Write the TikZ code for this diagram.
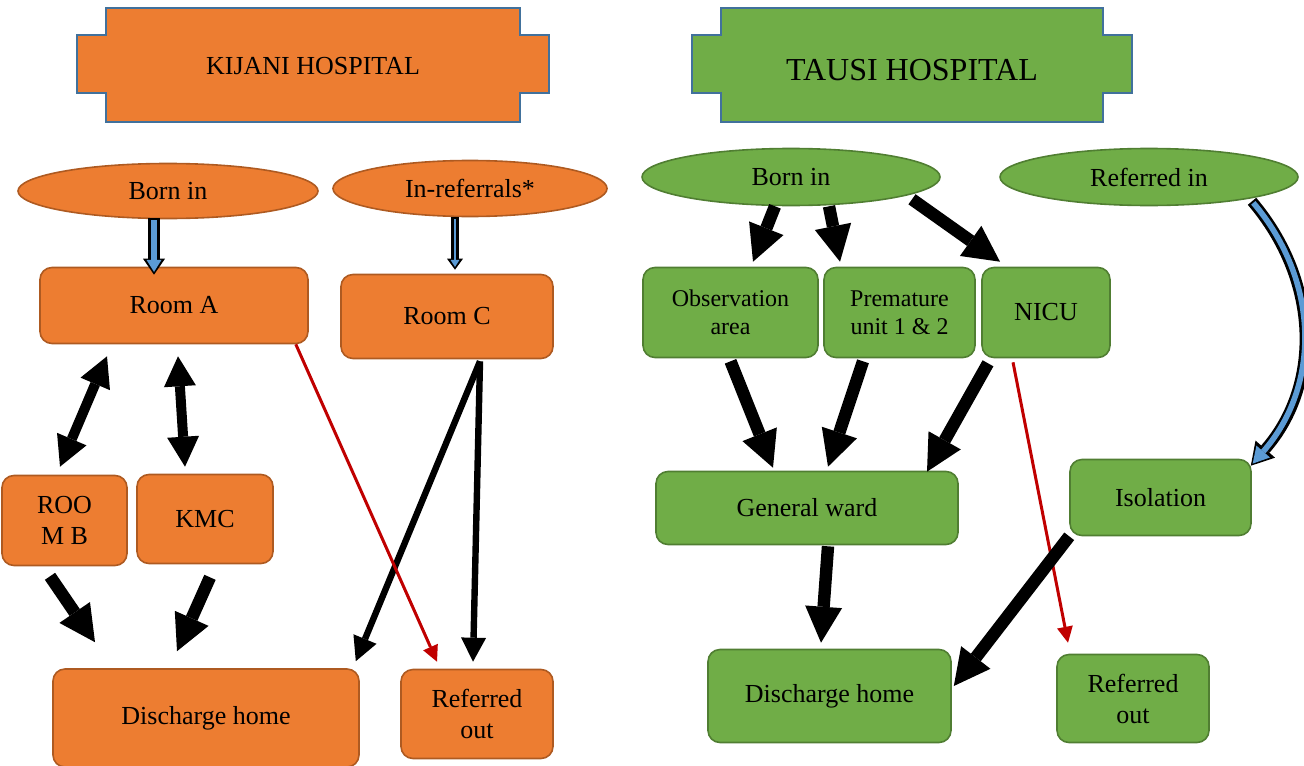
\documentclass[tikz,border=0pt]{standalone}
\usepackage{fontspec}
\setmainfont{Liberation Serif}
\usetikzlibrary{shapes.geometric,arrows.meta,calc}
\definecolor{kijaniorange}{HTML}{ED7D31}
\definecolor{kijaniedge}{HTML}{AE5A21}
\definecolor{tausigreen}{HTML}{70AD47}
\definecolor{tausiedge}{HTML}{507E32}
\definecolor{plaqueedge}{HTML}{41719C}
\definecolor{arrowblue}{HTML}{5B9BD5}
\definecolor{referred}{HTML}{C00000}
\newcommand{\boxFont}[0]{\fontsize{13}{15.5}\selectfont}
\newcommand{\smallFont}[0]{\fontsize{12}{14}\selectfont}
\newcommand{\titleFont}[0]{\fontsize{16}{19}\selectfont}

\begin{document}
\begin{tikzpicture}[x=0.5pt, y=-0.5pt]
  \tikzset{kbox/.style={draw=kijaniedge, fill=kijaniorange, line width=0.8pt, rounded corners=6pt,
                        align=center, font=\boxFont, inner sep=1pt},
           koval/.style={ellipse, draw=kijaniedge, fill=kijaniorange, line width=0.8pt, font=\boxFont, inner sep=1pt},
           tbox/.style={draw=tausiedge, fill=tausigreen, line width=0.8pt, rounded corners=6pt,
                        align=center, font=\boxFont, inner sep=1pt},
           toval/.style={ellipse, draw=tausiedge, fill=tausigreen, line width=0.8pt, font=\boxFont, inner sep=1pt},
           plaque/.style={draw=plaqueedge, line width=1.1pt},
           flow/.style={line width=6.2pt, >={Triangle[length=18pt,width=18.5pt,line width=0pt]}, ->},
           twoway/.style={line width=5pt, >={Triangle[length=15pt,width=16pt,line width=0pt]}, <->},
           thin flow/.style={line width=3.2pt, >={Triangle[length=12pt,width=12.5pt,line width=0pt]}, ->},
           referral/.style={draw=referred, line width=1.5pt, >={Triangle[length=8pt,width=8pt,line width=0pt]}, ->},
           outlined/.style n args={6}{draw=arrowblue, line width=#2, shorten >=1.4pt, shorten <=1pt,
                        -{Triangle[width=#5,length=#6,line width=0pt]},
                        preaction={draw=black, line width=#1, shorten >=0pt, shorten <=0pt,
                                   -{Triangle[width=#3,length=#4,line width=0pt]}}}}
  \useasboundingbox (0,0) rectangle (1304,765);

  % Kijani
  \draw[plaque, fill=kijaniorange] (106,8) -- (520,8) -- (520,35) -- (549,35) -- (549,93) -- (520,93)
        -- (520,122) -- (106,122) -- (106,93) -- (77,93) -- (77,35) -- (106,35) -- cycle;
  \node[font=\boxFont] (kijani) at (313,66) {KIJANI HOSPITAL};
  \node[koval, minimum width=150pt, minimum height=27.5pt] (bornK) at (168,191) {Born in};
  \node[koval, minimum width=137pt, minimum height=28pt] (inref) at (470,188.5) {In-referrals*};
  \node[kbox, minimum width=134pt, minimum height=38pt] (roomA) at (174,305.5) {Room A};
  \node[kbox, minimum width=106pt, minimum height=42pt] (roomC) at (447,316.5) {Room C};
  \node[kbox, minimum width=62.5pt, minimum height=45pt] (roomB) at (64.5,520.5) {ROO\\M B};
  \node[kbox, minimum width=68pt, minimum height=44.5pt] (kmc) at (205,519) {KMC};
  \node[kbox, minimum width=153pt, minimum height=49pt] (homeK) at (206,718) {Discharge home};
  \node[kbox, minimum width=76pt, minimum height=44.5pt] (outK) at (477,714) {Referred\\out};

  \draw[outlined={6pt}{3.2pt}{11pt}{8pt}{7.5pt}{6pt}] ($(bornK.south)+(-14,-1)$) -- ($(roomA.north)+(-20,8)$);
  \draw[outlined={3.8pt}{1.2pt}{8pt}{5.5pt}{4.5pt}{3.5pt}] ($(inref.south)+(-15,0)$) -- ($(roomC.north)+(8,-4)$);
  \draw[twoway] ($(roomA.south)+(-67,12)$) -- ($(roomB.north)+(-4.5,-8)$);
  \draw[twoway] ($(roomA.south)+(4,12)$) -- ($(kmc.north)+(-20,-7)$);
  \draw[flow] ($(roomB.south)+(-14.5,10)$) -- ($(homeK.north)+(-111,-26)$);
  \draw[flow] ($(kmc.south)+(5,13)$) -- ($(homeK.north)+(-29,-17)$);
  \draw[thin flow] ($(roomC.south)+(33,2)$) -- ($(homeK.north east)+(-4,-7)$);
  \draw[thin flow] ($(roomC.south)+(33,2)$) -- ($(outK.north)+(-4,-7)$);
  \draw[referral] ($(roomA.south east)+(-13,0)$) -- ($(outK.north)+(-40,-7)$);

  % Tausi
  \draw[plaque, fill=tausigreen] (721,8) -- (1103,8) -- (1103,35) -- (1132,35) -- (1132,93) -- (1103,93)
        -- (1103,122) -- (721,122) -- (721,93) -- (692,93) -- (692,35) -- (721,35) -- cycle;
  \node[font=\titleFont] (tausi) at (912,70) {TAUSI HOSPITAL};
  \node[toval, minimum width=149pt, minimum height=28.5pt] (bornT) at (791,177) {Born in};
  \node[toval, minimum width=149pt, minimum height=28.5pt] (refin) at (1149,177) {Referred in};
  \node[tbox, minimum width=87.5pt, minimum height=45pt, font=\smallFont] (obs) at (730.5,312.5) {Observation\\area};
  \node[tbox, minimum width=75.5pt, minimum height=45pt, font=\smallFont] (prem) at (899.5,312.5) {Premature\\unit 1 \& 2};
  \node[tbox, minimum width=64pt, minimum height=45pt] (nicu) at (1046,312.5) {NICU};
  \node[tbox, minimum width=151pt, minimum height=36.5pt] (ward) at (807,508) {General ward};
  \node[tbox, minimum width=90.5pt, minimum height=38pt] (iso) at (1160.5,497.5) {Isolation};
  \node[tbox, minimum width=121.5pt, minimum height=46.5pt] (homeT) at (829.5,696) {Discharge home};
  \node[tbox, minimum width=76pt, minimum height=44pt] (outT) at (1133,698.5) {Referred\\out};

  \draw[flow] ($(bornT.south)+(-16,0)$) -- ($(obs.north)+(22.5,-5)$);
  \draw[flow] ($(bornT.south)+(38,0)$) -- ($(prem.north)+(-59.5,-5)$);
  \draw[flow] ($(bornT.south)+(121,-7)$) -- ($(nicu.north)+(-46,-5)$);
  \draw[flow] ($(obs.south)+(0,3)$) -- ($(ward.north)+(-34,-3)$);
  \draw[flow] ($(prem.south)+(-36.5,3)$) -- ($(ward.north)+(21,-4)$);
  \draw[flow] ($(nicu.south)+(-58,5)$) -- ($(ward.north)+(120,1)$);
  \draw[referral] ($(nicu.south)+(-33,4)$) -- ($(outT.north)+(-65,-11)$);
  \draw[flow] ($(ward.south)+(21,1)$) -- ($(homeT.north)+(-8.5,-6)$);
  \draw[flow] (iso.south west) -- ($(homeT.east)+(2,-10)$);
  \draw[outlined={5.5pt}{2.8pt}{13pt}{11pt}{9pt}{8pt}] ($(refin.south)+(103,-5)$)
        .. controls +(68,80) and +(70,-80) .. ($(iso.north east)+(-1,7)$);
\end{tikzpicture}
\end{document}
